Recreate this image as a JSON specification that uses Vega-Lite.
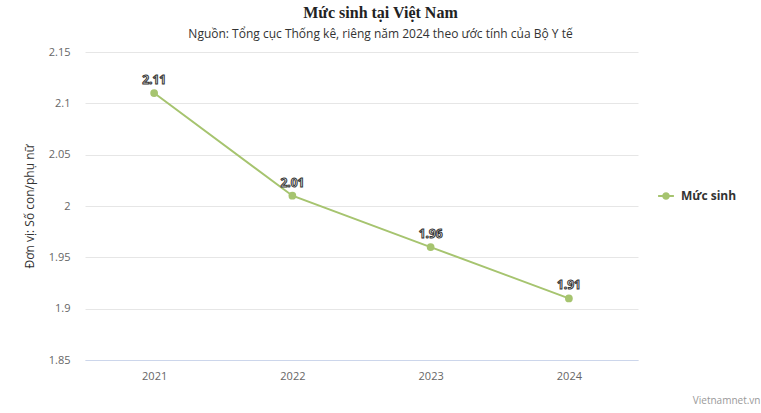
{
  "$schema": "https://vega.github.io/schema/vega-lite/v6.json",
  "width": 553,
  "height": 308,
  "autosize": {"type": "none"},
  "padding": {"left": 85, "top": 52, "right": 123, "bottom": 53},
  "background": "#ffffff",
  "title": {
    "text": "Mức sinh tại Việt Nam",
    "subtitle": "Nguồn: Tổng cục Thống kê, riêng năm 2024 theo ước tính của Bộ Y tế",
    "anchor": "middle",
    "frame": "group",
    "dx": 19,
    "offset": 6,
    "font": "Liberation Serif",
    "fontSize": 16,
    "fontWeight": "bold",
    "color": "#222222",
    "subtitleFont": "Open Sans",
    "subtitleFontSize": 12,
    "subtitleColor": "#333333",
    "subtitlePadding": 8
  },
  "config": {
    "view": {"stroke": null},
    "font": "Open Sans"
  },
  "data": {
    "values": [
      {"year": "2021", "value": 2.11, "series": "Mức sinh"},
      {"year": "2022", "value": 2.01, "series": "Mức sinh"},
      {"year": "2023", "value": 1.96, "series": "Mức sinh"},
      {"year": "2024", "value": 1.91, "series": "Mức sinh"}
    ]
  },
  "encoding": {
    "x": {
      "field": "year",
      "type": "ordinal",
      "scale": {"type": "point", "padding": 0.5},
      "axis": {
        "title": "Vietnamnet.vn",
        "titleFont": "Open Sans",
        "titleFontSize": 10,
        "titleFontWeight": "normal",
        "titleColor": "#999999",
        "titleAlign": "right",
        "titleAnchor": null,
        "titleBaseline": "middle",
        "titleX": 675,
        "titleY": 40,
        "labelAngle": 0,
        "labelFontSize": 11,
        "labelColor": "#666666",
        "labelPadding": 10,
        "ticks": false,
        "domainColor": "#ccd6eb",
        "grid": false
      }
    },
    "y": {
      "field": "value",
      "type": "quantitative",
      "scale": {"domain": [1.85, 2.15], "nice": false, "zero": false},
      "axis": {
        "values": [1.85, 1.9, 1.95, 2, 2.05, 2.1, 2.15],
        "format": "~g",
        "title": "Đơn vị: Số con/phụ nữ",
        "titleFontSize": 12,
        "titleFontWeight": "normal",
        "titleColor": "#333333",
        "titlePadding": 12,
        "labelFontSize": 11,
        "labelColor": "#666666",
        "labelPadding": 15,
        "ticks": false,
        "domain": false,
        "gridColor": "#e6e6e6",
        "gridWidth": 1
      }
    }
  },
  "layer": [
    {
      "mark": {"type": "line", "strokeWidth": 2, "color": "#a6c46f"},
      "encoding": {
        "color": {
          "field": "series",
          "type": "nominal",
          "scale": {"range": ["#a6c46f"]},
          "legend": {
            "title": null,
            "orient": "none",
            "legendX": 572,
            "legendY": 135,
            "labelFontSize": 12,
            "labelFontWeight": "bold",
            "labelColor": "#333333",
            "symbolType": "M-1,0H1M-0.35,0A0.35,0.35 0 1,0 0.35,0A0.35,0.35 0 1,0 -0.35,0",
            "symbolSize": 250,
            "symbolStrokeWidth": 2,
            "symbolFillColor": "#a6c46f",
            "symbolStrokeColor": "#a6c46f",
            "labelOffset": 6
          }
        }
      }
    },
    {
      "mark": {"type": "point", "filled": true, "size": 60, "color": "#a6c46f", "opacity": 1},
      "encoding": {}
    },
    {
      "mark": {"type": "text", "dy": -13, "fontSize": 12, "fontWeight": "bold", "fill": "#ffffff", "stroke": "#333333", "strokeWidth": 1},
      "encoding": {"text": {"field": "value", "type": "quantitative", "format": ".2~f"}}
    }
  ]
}
